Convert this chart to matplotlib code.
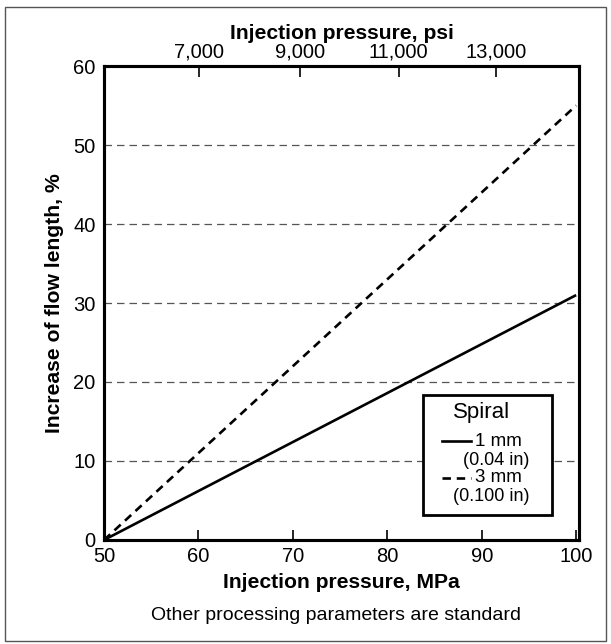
import matplotlib
matplotlib.use("Agg")
import matplotlib.pyplot as plt
from matplotlib.patches import Rectangle
from matplotlib.lines import Line2D

plt.rcParams['font.family'] = ['Liberation Sans', 'DejaVu Sans']

# Data
pressure_mpa = [50, 100]
spiral_1mm = [0, 31]
spiral_3mm = [0, 55]
x_ticks = [50, 60, 70, 80, 90, 100]
y_ticks = [0, 10, 20, 30, 40, 50, 60]
psi_tick_pos = [60.1, 70.8, 81.2, 91.5]
psi_tick_labels = ["7,000", "9,000", "11,000", "13,000"]

fig = plt.figure(figsize=(6.11, 6.44), dpi=100)
ax = fig.add_axes([0.1702, 0.1615, 0.7774, 0.736])

# figure border
fig.patches.append(Rectangle((0.008, 0.004), 0.984, 0.985, transform=fig.transFigure,
                             fill=False, edgecolor='#555555', linewidth=1.0))

ax.set_xlim(50, 100.3)
ax.set_ylim(0, 60)

for yv in y_ticks[1:-1]:
    ax.axhline(yv, color='#555555', linewidth=0.9, linestyle=(0, (6, 4)), zorder=1)

ax.plot(pressure_mpa, spiral_1mm, color='black', linewidth=1.9, solid_capstyle='butt', zorder=3)
ax.plot(pressure_mpa, spiral_3mm, color='black', linewidth=1.9, linestyle=(0, (3.2, 2.2)), zorder=3)

ax.set_xticks(x_ticks)
ax.set_yticks(y_ticks)
ax.tick_params(axis='x', direction='in', length=7, width=1.2, labelsize=14.5, pad=5)
ax.tick_params(axis='y', length=0, labelsize=14.5, pad=6)
for s in ax.spines.values():
    s.set_linewidth(2.2)

ax.set_xlabel("Injection pressure, MPa", fontsize=15.2, fontweight='bold', labelpad=5)
ax.set_ylabel("Increase of flow length, %", fontsize=15.2, fontweight='bold', labelpad=7)

ax2 = ax.twiny()
ax2.set_xlim(ax.get_xlim())
ax2.set_xticks(psi_tick_pos)
ax2.set_xticklabels(psi_tick_labels)
ax2.tick_params(axis='x', direction='in', length=8, width=1.2, labelsize=14.5, pad=3)
ax2.set_xlabel("Injection pressure, psi", fontsize=15.2, fontweight='bold', labelpad=3)
for s in ax2.spines.values():
    s.set_linewidth(2.2)

# Legend (manual)
leg = Rectangle((0.672, 0.053), 0.271, 0.253, transform=ax.transAxes,
                facecolor='white', edgecolor='black', linewidth=2.0, zorder=5)
ax.add_patch(leg)
ax.text(0.795, 0.268, "Spiral", transform=ax.transAxes, ha='center', va='center',
        fontsize=16, zorder=6)
ax.add_line(Line2D([0.711, 0.772], [0.208, 0.208], transform=ax.transAxes,
                   color='black', linewidth=1.9, zorder=6))
ax.text(0.782, 0.208, "1 mm", transform=ax.transAxes, ha='left', va='center',
        fontsize=13.5, zorder=6)
ax.text(0.895, 0.168, "(0.04 in)", transform=ax.transAxes, ha='right', va='center',
        fontsize=13, zorder=6)
ax.add_line(Line2D([0.711, 0.772], [0.131, 0.131], transform=ax.transAxes,
                   color='black', linewidth=1.9, linestyle=(0, (3.2, 2.2)), zorder=6))
ax.text(0.782, 0.131, "3 mm", transform=ax.transAxes, ha='left', va='center',
        fontsize=13.5, zorder=6)
ax.text(0.895, 0.091, "(0.100 in)", transform=ax.transAxes, ha='right', va='center',
        fontsize=13, zorder=6)

fig.text(0.55, 0.045, "Other processing parameters are standard", ha='center', va='center',
         fontsize=14)

fig.savefig("out.png", dpi=100)
